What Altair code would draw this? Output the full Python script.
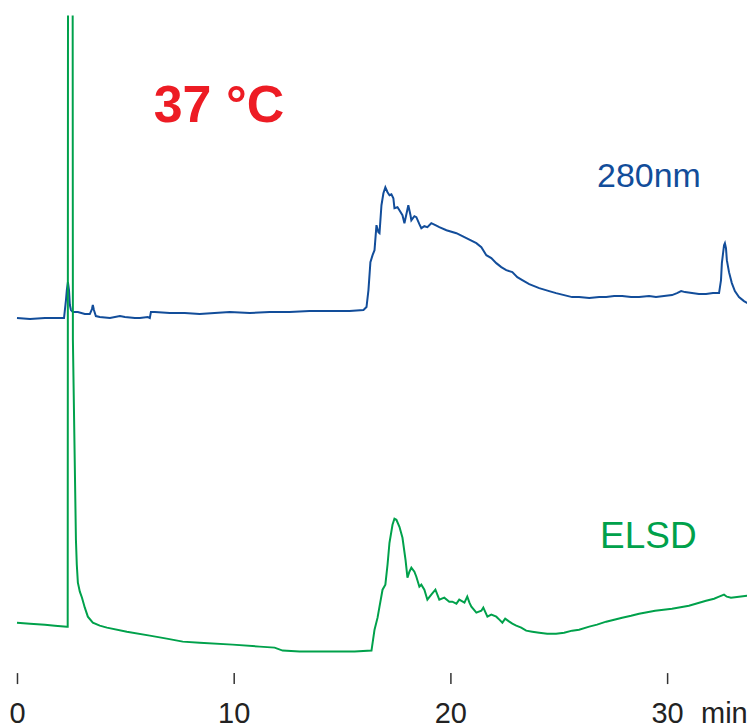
import altair as alt
import pandas as pd

# --- 280 nm trace (time in min, signal in arbitrary units) ---
uv_time = [0.00, 0.60, 1.29, 1.98, 2.17, 2.26, 2.30, 2.35, 2.40, 2.44, 2.49, 2.58, 2.81, 3.13, 3.36,
           3.46, 3.50, 3.55, 3.64, 3.82, 4.29, 4.75, 4.98, 5.44, 5.67, 6.04, 6.13, 6.18, 6.36, 7.05,
           7.74, 8.43, 9.12, 9.82, 10.74, 11.66, 12.58, 13.50, 14.42, 15.35, 15.99, 16.13, 16.22,
           16.31, 16.41, 16.50, 16.59, 16.68, 16.73, 16.82, 16.91, 17.00, 17.10, 17.19, 17.28, 17.37,
           17.42, 17.56, 17.65, 17.79, 17.88, 17.97, 18.06, 18.16, 18.20, 18.34, 18.43, 18.57, 18.66,
           18.80, 18.94, 19.12, 19.31, 19.49, 19.82, 20.28, 20.74, 21.20, 21.43, 21.66, 21.89, 22.12,
           22.35, 22.58, 22.86, 23.09, 23.32, 23.64, 24.10, 24.56, 24.88, 25.25, 25.62, 25.94, 26.41,
           26.87, 27.19, 27.56, 27.93, 28.34, 28.71, 29.17, 29.49, 29.86, 30.23, 30.46, 30.65, 30.83,
           31.15, 31.47, 31.80, 32.12, 32.40, 32.49, 32.53, 32.63, 32.67, 32.72, 32.76, 32.86, 32.99,
           33.13, 33.32, 33.55, 33.78, 34.06]
uv_signal = [355, 354, 355, 355, 355, 373, 383, 391, 383, 368, 363, 361, 361, 359, 359,
             364, 368, 363, 357, 356, 355, 357, 356, 355, 355, 356, 355, 361, 361, 360,
             360, 359, 360, 361, 360, 361, 361, 362, 362, 362, 363, 366, 383,
             411, 418, 423, 448, 441, 440, 468, 480, 486, 481, 478, 479, 475,
             465, 466, 463, 458, 450, 459, 468, 458, 453, 457, 456, 449, 445,
             447, 446, 450, 448, 446, 443, 440, 435, 430, 426, 418, 415, 410,
             406, 403, 401, 396, 393, 389, 385, 382, 380, 378, 376, 376, 375,
             376, 376, 377, 377, 376, 376, 377, 376, 377, 378, 380, 382, 381,
             380, 379, 379, 380, 380, 393, 410, 428, 430, 425, 413, 401, 390,
             382, 376, 372, 369, 366]

# --- ELSD trace ---
elsd_time = [0.00, 0.60, 1.29, 1.75, 2.30, 2.34, 2.36, 2.56, 2.58, 2.72, 2.76, 2.81, 2.90, 3.00,
             3.13, 3.27, 3.50, 3.82, 4.15, 5.07, 6.13, 6.91, 7.65, 8.43, 9.95, 11.20, 11.89, 12.26,
             13.04, 14.56, 15.58, 16.36, 16.50, 16.64, 16.73, 16.87, 17.00, 17.10, 17.19, 17.33,
             17.42, 17.51, 17.65, 17.79, 17.93, 18.02, 18.11, 18.20, 18.34, 18.43, 18.57, 18.66,
             18.80, 18.94, 19.12, 19.31, 19.49, 19.72, 19.95, 20.09, 20.28, 20.41, 20.65, 20.78,
             20.88, 20.97, 21.20, 21.43, 21.52, 21.71, 21.89, 22.12, 22.26, 22.40, 22.53, 22.72,
             22.86, 23.04, 23.27, 23.50, 23.78, 24.10, 24.47, 24.88, 25.25, 25.62, 25.94, 26.41,
             26.77, 27.19, 27.56, 27.93, 28.34, 28.71, 29.45, 30.23, 31.01, 31.80, 32.17, 32.40,
             32.63, 32.76, 32.95, 33.32, 33.69, 34.06]
elsd_signal = [50, 49, 48, 47, 46, 46, 973, 973, 333, 133, 108, 90, 81, 75,
               65, 56, 50, 47, 45, 41, 37, 34, 31, 30, 28, 26, 25, 22,
               21, 21, 21, 22, 43, 55, 66, 83, 88, 108, 130, 148,
               154, 153, 146, 135, 113, 95, 101, 105, 101, 96, 86, 88,
               83, 73, 78, 83, 73, 75, 71, 71, 69, 73, 70, 76,
               70, 66, 60, 62, 65, 56, 58, 56, 53, 50, 54, 51,
               49, 47, 45, 42, 41, 40, 39, 39, 40, 42, 43, 46,
               48, 51, 53, 55, 57, 59, 62, 64, 67, 72, 74, 76,
               78, 76, 75, 76, 77, 78]

x_ticks = [0, 10, 20, 30]
x_domain = [-0.415, 33.69]
y_domain = [0, 658]

BLUE = "#124d9a"
GREEN = "#00a14b"
RED = "#ed1c24"
FONT = "Liberation Sans"

traces = pd.concat([
    pd.DataFrame({"time": uv_time, "signal": uv_signal, "series": "280nm"}),
    pd.DataFrame({"time": elsd_time, "signal": elsd_signal, "series": "ELSD"}),
])

x_enc = alt.X("time:Q", scale=alt.Scale(domain=x_domain, nice=False, zero=False),
              axis=alt.Axis(values=x_ticks, title=None, domain=False, grid=False,
                            tickSize=11, tickWidth=1.5, tickColor="#333333",
                            labelFont=FONT, labelFontSize=29, labelColor="#222222",
                            labelPadding=16, labelFlush=False, labelOverlap=False))
y_enc = alt.Y("signal:Q", scale=alt.Scale(domain=y_domain, nice=False, zero=False), axis=None)

lines = alt.Chart(traces).mark_line(clip=True, strokeWidth=2).encode(
    x=x_enc,
    y=y_enc,
    color=alt.Color("series:N", scale=alt.Scale(domain=["280nm", "ELSD"], range=[BLUE, GREEN]),
                    legend=None),
    detail="series:N",
    order="time:Q",
)

def label(text, t, v, color, size, weight="normal"):
    df = pd.DataFrame({"time": [t], "signal": [v], "text": [text]})
    return alt.Chart(df).mark_text(align="left", baseline="alphabetic", font=FONT,
                                   fontSize=size, fontWeight=weight, color=color).encode(
        x=alt.X("time:Q", scale=alt.Scale(domain=x_domain, nice=False, zero=False)),
        y=alt.Y("signal:Q", scale=alt.Scale(domain=y_domain, nice=False, zero=False)),
        text="text:N",
    )

texts = [
    label("280nm", 26.77, 486, BLUE, 34),
    label("ELSD", 26.91, 125, GREEN, 37),
    label("37 °C", 6.31, 551, RED, 52, "bold"),
    label("min", 31.57, -50, "#222222", 29),
]

chart = alt.layer(lines, *texts).properties(
    width=740, height=658,
    padding={"left": 0, "top": 7, "right": 0, "bottom": 0},
).configure_view(stroke=None)

chart.save("out.html", embed_options={"renderer": "svg", "actions": False})
